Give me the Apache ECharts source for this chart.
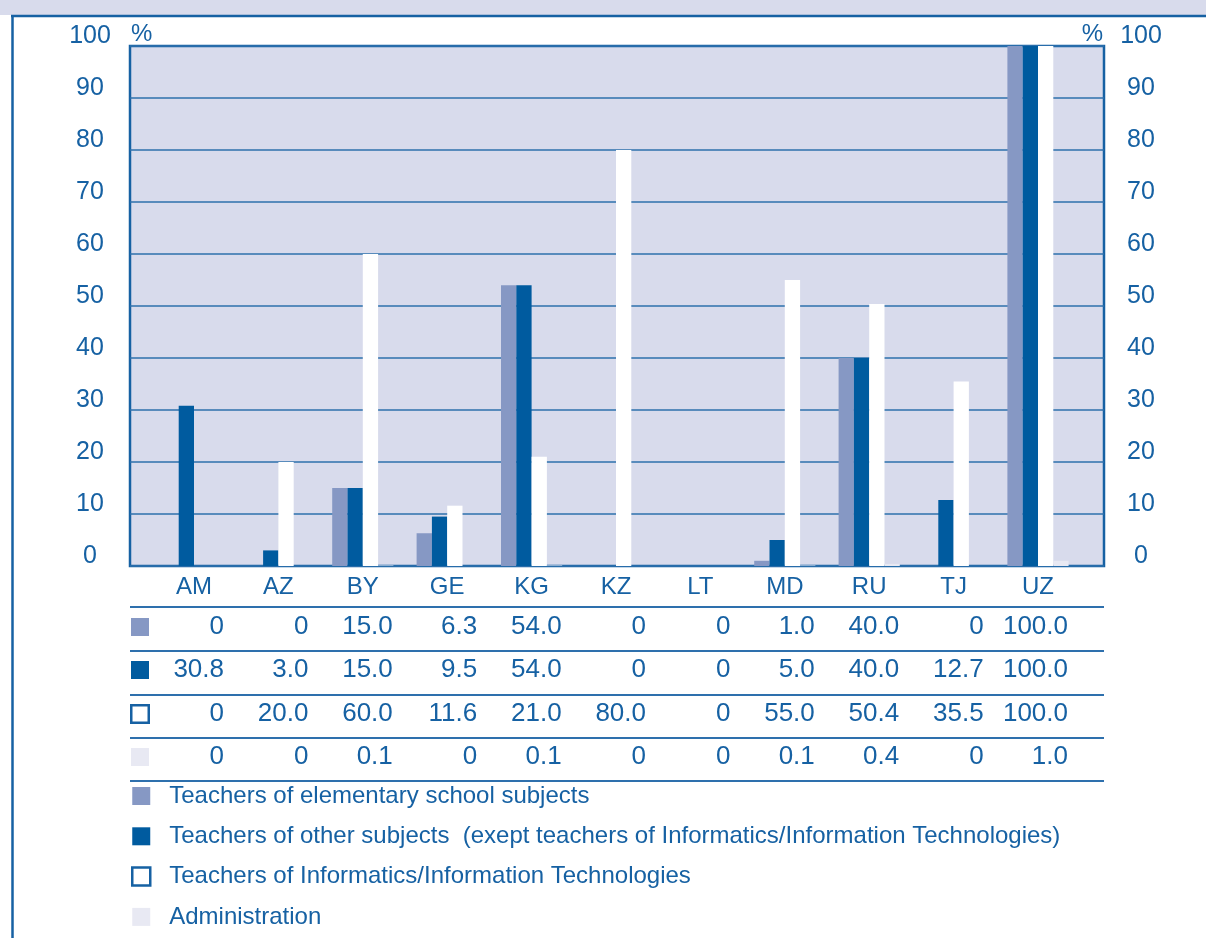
<!DOCTYPE html>
<html>
<head>
<meta charset="utf-8">
<title>ICT use by staff group</title>
<script src="https://cdn.jsdelivr.net/npm/echarts@6/dist/echarts.min.js"></script>
<style>
  html, body { margin: 0; padding: 0; background: #ffffff; }
  #chart { width: 1206px; height: 938px; }
</style>
</head>
<body>
<div id="chart"></div>
<script>
// Countries along the category axis
const categories = ['AM', 'AZ', 'BY', 'GE', 'KG', 'KZ', 'LT', 'MD', 'RU', 'TJ', 'UZ'];

// Shares (%) per staff group
const elementary     = [0, 0, 15.0, 6.3, 54.0, 0, 0, 1.0, 40.0, 0, 100.0];
const otherSubjects  = [30.8, 3.0, 15.0, 9.5, 54.0, 0, 0, 5.0, 40.0, 12.7, 100.0];
const informatics    = [0, 20.0, 60.0, 11.6, 21.0, 80.0, 0, 55.0, 50.4, 35.5, 100.0];
const administration = [0, 0, 0.1, 0, 0.1, 0, 0, 0.1, 0.4, 0, 1.0];

const seriesNames = [
  'Teachers of elementary school subjects',
  'Teachers of other subjects  (exept teachers of Informatics/Information Technologies)',
  'Teachers of Informatics/Information Technologies',
  'Administration'
];

// Value axis: 0..100 % in steps of 10
const yMin = 0, yMax = 100, yStep = 10;

// Colours
const BLUE = '#1661a3';
const LINE = '#2e70ad';
const PLOT_BG = '#d8dbec';
const fills = ['#8698c4', '#005b9f', '#ffffff', '#e8e9f3'];
const FONT = '"Liberation Sans", Arial, sans-serif';

// Layout (px)
const W = 1206, H = 938;
const plotL = 130, plotR = 1104, plotT = 46, plotB = 566;
const barL = 151.8, barR = 1080.2;
const rowLines = [607, 651, 695, 738, 781];
const rowCenters = [627, 670, 714, 757];

const rows = [elementary, otherSubjects, informatics, administration];
const fmt = v => (v === 0 ? '0' : v.toFixed(1));

// Table rows: one category axis per staff group, labels show the values
const rowAxes = rows.map((vals, i) => ({
  type: 'category',
  gridIndex: 1,
  data: categories,
  position: 'bottom',
  offset: rowCenters[i] - plotB,
  axisLine: { show: false },
  axisTick: { show: false },
  axisLabel: {
    interval: 0,
    margin: 0,
    verticalAlign: 'middle',
    formatter: (v, idx) => '{v|' + fmt(vals[idx]) + '}',
    rich: { v: { width: 60, align: 'right', fontSize: 26, color: BLUE, fontFamily: FONT } }
  },
  name: '{sq|}',
  nameLocation: 'start',
  nameGap: i === 2 ? barL - 147.5 : barL - 149,
  nameTextStyle: {
    align: 'right',
    verticalAlign: 'middle',
    rich: {
      sq: i === 2
        ? { width: 15, height: 15, backgroundColor: '#ffffff', borderColor: BLUE, borderWidth: 2.5 }
        : { width: 18, height: 18, backgroundColor: fills[i] }
    }
  }
}));

const chart = echarts.init(document.getElementById('chart'), null, { renderer: 'canvas' });

const graphics = [
  { type: 'rect', shape: { x: 0, y: 0, width: W, height: 15 }, style: { fill: PLOT_BG }, silent: true },
  { type: 'line', shape: { x1: 11, y1: 16, x2: W, y2: 16 }, style: { stroke: BLUE, lineWidth: 2.5 }, silent: true },
  { type: 'line', shape: { x1: 12.5, y1: 16, x2: 12.5, y2: H }, style: { stroke: BLUE, lineWidth: 2.5 }, silent: true }
].concat(rowLines.map(y => ({
  type: 'line',
  shape: { x1: plotL, y1: y, x2: plotR, y2: y },
  style: { stroke: LINE, lineWidth: 2 },
  silent: true
})));

const yAxisCommon = {
  type: 'value',
  gridIndex: 0,
  min: yMin, max: yMax, interval: yStep,
  axisTick: { show: false },
  axisLine: { show: false },
  name: '%',
  nameLocation: 'end',
  nameGap: 12,
  axisLabel: {
    align: 'center',
    verticalAlign: 'bottom',
    lineHeight: 19,
    fontSize: 25,
    color: BLUE,
    fontFamily: FONT
  }
};

chart.setOption({
  animation: false,
  backgroundColor: '#ffffff',
  textStyle: { fontFamily: FONT, color: BLUE },
  graphic: graphics,
  grid: [
    { left: plotL, right: W - plotR, top: plotT, bottom: H - plotB,
      show: true, backgroundColor: PLOT_BG, borderColor: BLUE, borderWidth: 2.5 },
    { left: barL, right: W - barR, top: plotT, bottom: H - plotB }
  ],
  xAxis: [
    { type: 'value', gridIndex: 0, min: 0, max: 1, show: false },
    {
      type: 'category',
      gridIndex: 1,
      data: categories,
      axisLine: { show: false },
      axisTick: { show: false },
      axisLabel: { interval: 0, margin: 9, fontSize: 24, color: BLUE, fontFamily: FONT }
    }
  ].concat(rowAxes),
  yAxis: [
    Object.assign({}, yAxisCommon, {
      position: 'left',
      splitLine: { show: true, lineStyle: { color: LINE, width: 1.5 } },
      axisLabel: Object.assign({}, yAxisCommon.axisLabel, { margin: plotL - 90 }),
      nameTextStyle: { align: 'left', verticalAlign: 'middle', fontSize: 24, color: BLUE, padding: [0, 0, 0, 1] }
    }),
    Object.assign({}, yAxisCommon, {
      position: 'right',
      splitLine: { show: false },
      axisLabel: Object.assign({}, yAxisCommon.axisLabel, { margin: 1141 - plotR }),
      nameTextStyle: { align: 'right', verticalAlign: 'middle', fontSize: 24, color: BLUE, padding: [0, 1, 0, 0] }
    }),
    { type: 'value', gridIndex: 1, min: yMin, max: yMax, interval: yStep, show: false }
  ],
  legend: {
    orient: 'vertical',
    left: 131,
    top: 784,
    padding: 0,
    icon: 'rect',
    itemWidth: 18,
    itemHeight: 18,
    itemGap: 16.3,
    selectedMode: false,
    textStyle: { fontSize: 24, color: BLUE, fontFamily: FONT, padding: [0, 0, 0, 14] },
    data: [
      { name: seriesNames[0] },
      { name: seriesNames[1] },
      { name: seriesNames[2], itemStyle: { color: '#ffffff', borderColor: BLUE, borderWidth: 2.5 } },
      { name: seriesNames[3] }
    ]
  },
  series: rows.map((vals, i) => ({
    type: 'bar',
    name: seriesNames[i],
    xAxisIndex: 1,
    yAxisIndex: 2,
    data: vals,
    barGap: '0%',
    barCategoryGap: '27.5%',
    itemStyle: { color: fills[i] },
    z: 3
  }))
});
</script>
</body>
</html>
